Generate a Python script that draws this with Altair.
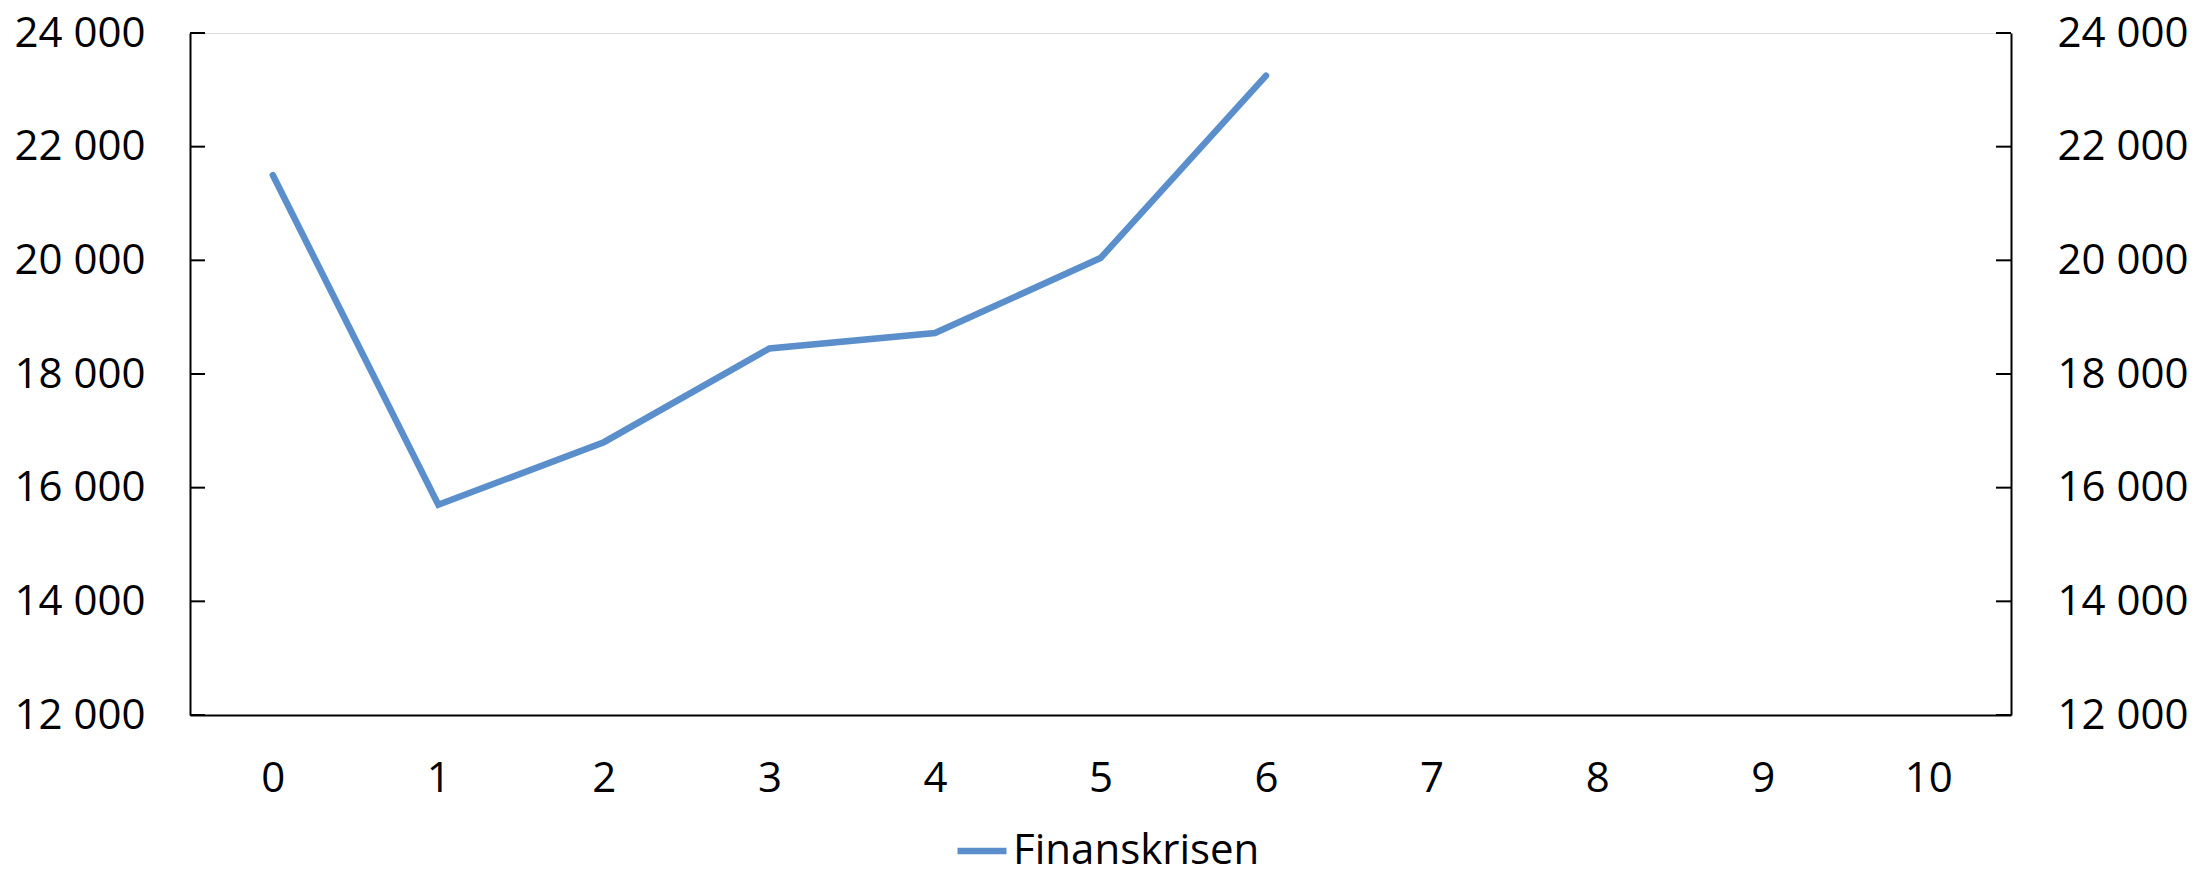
import altair as alt
import pandas as pd

# Data
years = [0, 1, 2, 3, 4, 5, 6]
values = [21500, 15700, 16800, 18450, 18720, 20040, 23250]
x_categories = list(range(11))
y_ticks = [12000, 14000, 16000, 18000, 20000, 22000, 24000]
series_name = "Finanskrisen"

line_df = pd.DataFrame({"år": years, "verdi": values, "serie": [series_name] * len(years)})
tick_df = pd.DataFrame({"verdi": y_ticks})

W, H = 1821, 682
FONT = "Open Sans"
LINE_COLOR = "#5b8fcb"
label_expr = "replace(format(datum.value, ',d'), ',', ' ')"

y_scale = alt.Scale(domain=[12000, 24000], nice=False, zero=False)

line = alt.Chart(line_df).mark_line(strokeWidth=6.5, strokeCap="round", strokeJoin="miter").encode(
    x=alt.X("år:O", scale=alt.Scale(domain=x_categories),
            axis=alt.Axis(title=None, labelAngle=0, ticks=False, tickSize=0, labelPadding=43,
                          labelFontSize=42, labelFont=FONT, labelColor="black",
                          domainColor="black", domainWidth=2)),
    y=alt.Y("verdi:Q", scale=y_scale,
            axis=alt.Axis(title=None, orient="left", values=y_ticks, ticks=False, tickSize=0,
                          labelPadding=45, labelFontSize=42, labelFont=FONT, labelColor="black",
                          labelExpr=label_expr, domainColor="black", domainWidth=2, grid=False)),
    color=alt.Color("serie:N", scale=alt.Scale(domain=[series_name], range=[LINE_COLOR]),
                    legend=alt.Legend(title=None, orient="none", legendX=764, legendY=790,
                                      symbolType="stroke", symbolSize=2400, symbolStrokeWidth=6.5,
                                      labelFontSize=42, labelFont=FONT, labelLimit=600,
                                      labelColor="black", labelOffset=3)),
)

left_ticks = alt.Chart(tick_df).mark_rule(color="black", strokeWidth=2).encode(
    y=alt.Y("verdi:Q", scale=y_scale, axis=None),
    x=alt.value(0),
    x2=alt.value(15),
)

right_ticks = alt.Chart(tick_df).mark_rule(color="black", strokeWidth=2).encode(
    y=alt.Y("verdi:Q", scale=y_scale,
            axis=alt.Axis(title=None, orient="right", values=y_ticks, ticks=False, tickSize=0,
                          labelPadding=46, labelFontSize=42, labelFont=FONT, labelColor="black",
                          labelExpr=label_expr, domainColor="black", domainWidth=2, grid=False)),
    x=alt.value(W - 15),
    x2=alt.value(W),
)

chart = alt.layer(line, left_ticks, right_ticks).resolve_scale(y="independent").properties(
    width=W, height=H,
    autosize=alt.AutoSizeParams(type="none"),
    padding={"left": 182, "top": 25, "right": 177, "bottom": 160},
).configure_view(stroke=None).configure(background="white")

chart.save("out.html", embed_options={"renderer": "svg", "actions": False})
